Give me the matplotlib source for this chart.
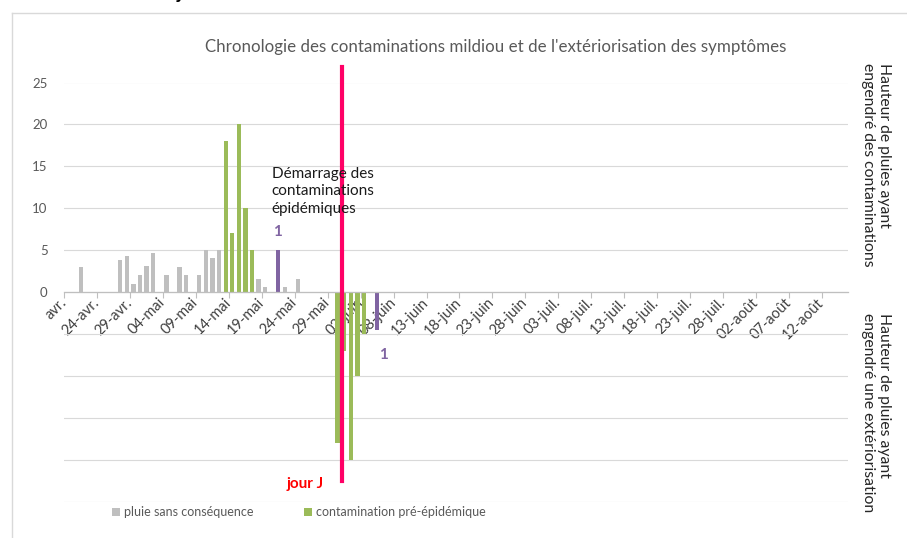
import numpy as np
import matplotlib
matplotlib.use("Agg")
import matplotlib.pyplot as plt
from matplotlib.lines import Line2D

plt.rcParams['font.family'] = ['Lato', 'DejaVu Sans']

# ---- data (day index counted from 19 avril) ----
tick_labels = ["avr.", "24-avr.", "29-avr.", "04-mai", "09-mai", "14-mai", "19-mai",
               "24-mai", "29-mai", "03-juin", "08-juin", "13-juin", "18-juin",
               "23-juin", "28-juin", "03-juil.", "08-juil.", "13-juil.", "18-juil.",
               "23-juil.", "28-juil.", "02-août", "07-août", "12-août"]
tick_step = 5

grey_days = [2, 8, 9, 10, 11, 12, 13, 15, 17, 18, 20, 21, 22, 23, 29, 30, 33, 35]
grey_vals = [3.0, 3.8, 4.3, 1.0, 2.0, 3.1, 4.6, 2.0, 3.0, 2.0, 2.0, 5.0, 4.0, 5.0,
             1.5, 0.6, 0.6, 1.5]

green_days = [24, 25, 26, 27, 28]
green_vals = [18, 7, 20, 10, 5]

purple_days = [32]
purple_vals = [5]

green_ext_days = [41, 42, 43, 44, 45]
green_ext_vals = [-18, -7, -20, -10, -5]

purple_ext_days = [47]
purple_ext_vals = [-4.5]

jour_j_day = 42.2
x_max_day = 119

GREY = '#BFBFBF'
GREEN = '#9BBB59'
PURPLE = '#8064A2'
RED_LINE = '#FF0066'
TXT = '#595959'

W, H = 907, 538
fig = plt.figure(figsize=(W / 100, H / 100), dpi=100)

left_px, right_px, top_px, bot_px = 64.3, 848, 82.5, 501.5
ax = fig.add_axes([left_px / W, 1 - bot_px / H, (right_px - left_px) / W, (bot_px - top_px) / H])

for s in ['top', 'right', 'left']:
    ax.spines[s].set_visible(False)
ax.spines['bottom'].set_position(('data', 0))
ax.spines['bottom'].set_color(GREY)
ax.spines['bottom'].set_linewidth(0.9)
ax.spines['bottom'].set_zorder(3)

bw = 0.65
b_grey = ax.bar(np.array(grey_days) + 0.5, grey_vals, width=bw, color=GREY, zorder=2)
b_green = ax.bar(np.array(green_days) + 0.5, green_vals, width=bw, color=GREEN, zorder=2)
ax.bar(np.array(purple_days) + 0.5, purple_vals, width=bw, color=PURPLE, zorder=2)
ax.bar(np.array(green_ext_days) + 0.5, green_ext_vals, width=bw, color=GREEN, zorder=2)
ax.bar(np.array(purple_ext_days) + 0.5, purple_ext_vals, width=bw, color=PURPLE, zorder=2)

ax.set_xlim(0, x_max_day)
ax.set_ylim(-25, 25)

yt = np.arange(-25, 26, 5)
ax.set_yticks(yt)
ax.set_yticklabels([str(v) if v >= 0 else '' for v in yt])
ax.tick_params(axis='y', length=0, labelsize=9.5, labelcolor=TXT, pad=12)
ax.grid(axis='y', color='#D9D9D9', lw=0.8)
ax.set_axisbelow(True)

xt = np.arange(len(tick_labels)) * tick_step
ax.set_xticks(xt)
ax.set_xticklabels(tick_labels, rotation=45, ha='right', va='center', rotation_mode='anchor')
ax.tick_params(axis='x', length=4, width=0.8, color=GREY, labelsize=10.5, labelcolor='#404040', pad=2)

# jour J line
ax.plot([jour_j_day, jour_j_day], [26.8, -22.5], color=RED_LINE, lw=3, clip_on=False, zorder=6)

# annotations
ax.text(31.5, 12.0, "Démarrage des\ncontaminations\népidémiques", ha='left', va='center',
        fontsize=11, color='#1a1a1a', linespacing=1.3, zorder=7)
ax.text(32.4, 7.2, "1", ha='center', va='center', fontsize=11, weight='bold', color=PURPLE)
ax.text(48.4, -7.5, "1", ha='center', va='center', fontsize=11, weight='bold', color=PURPLE)
ax.text(36.55, -22.9, "jour J", ha='center', va='center', fontsize=11, weight='bold', color='#FF0000')

# title
fig.text(496 / W, 1 - 47 / H,
         "Chronologie des contaminations mildiou et de l'extériorisation des symptômes",
         ha='center', va='center', fontsize=12.2, color=TXT)

# right side labels
fig.text(876 / W, 1 - 165 / H, "Hauteur de pluies ayant\nengendré des contaminations",
         rotation=-90, ha='center', va='center', multialignment='left', fontsize=11.3, color='#262626')
fig.text(876 / W, 1 - 413 / H, "Hauteur de pluies ayant\nengendré une extériorisation",
         rotation=-90, ha='center', va='center', multialignment='left', fontsize=11.3, color='#262626')

# legend
fig.legend([b_grey, b_green], ["pluie sans conséquence", "contamination pré-épidémique"],
           loc='center left', bbox_to_anchor=(112 / W, 1 - 512 / H), ncol=2, frameon=False,
           fontsize=9, handlelength=0.6, handleheight=0.6, handletextpad=0.4,
           columnspacing=4.0, borderpad=0, borderaxespad=0, labelcolor=TXT)

# chart frame (left & top visible)
fig.add_artist(Line2D([12 / W, 1], [1 - 13 / H, 1 - 13 / H], transform=fig.transFigure,
                      color='#D9D9D9', lw=1))
fig.add_artist(Line2D([12 / W, 12 / W], [1 - 13 / H, 0], transform=fig.transFigure,
                      color='#D9D9D9', lw=1))

# cut-off heading above the chart
fig.text(225 / W, 1 + 0.5 / H, "Chronologie des contaminations au jour J",
         ha='right', va='baseline', fontsize=14, weight='bold', color='black')

fig.savefig("out.png", dpi=100)
